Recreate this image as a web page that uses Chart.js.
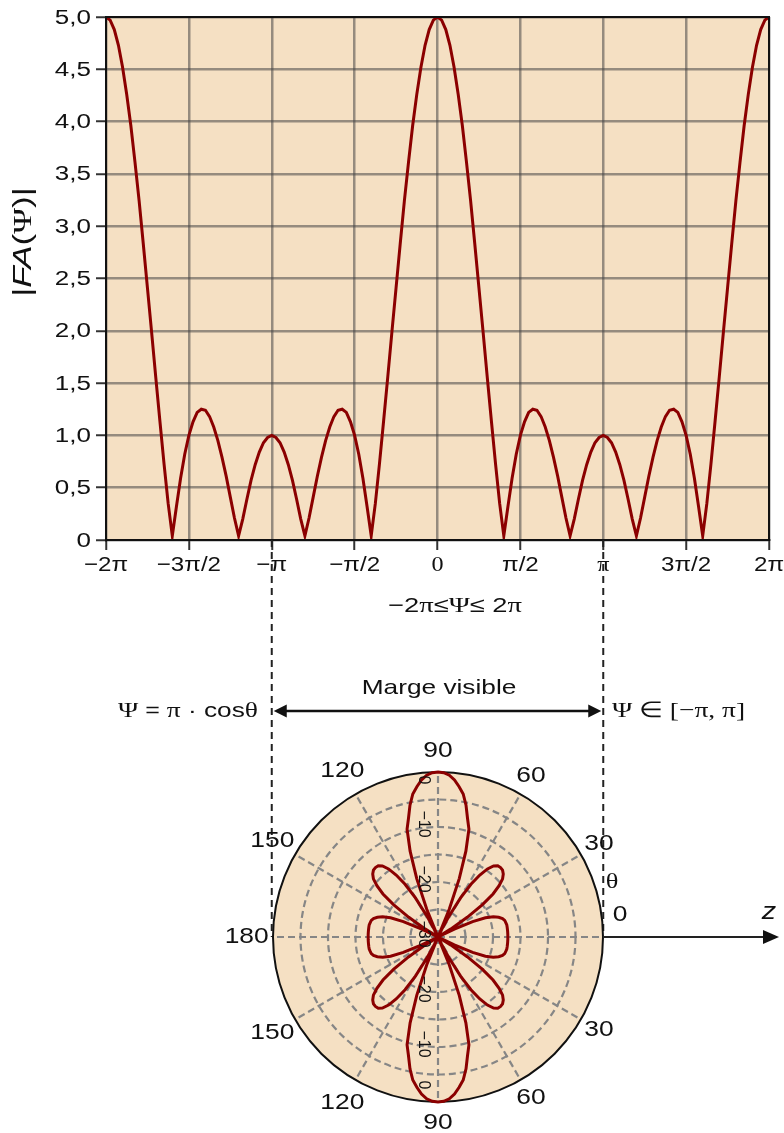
<!DOCTYPE html>
<html>
<head>
<meta charset="utf-8">
<script src="https://cdn.jsdelivr.net/npm/chart.js@4.4.1/dist/chart.umd.min.js"></script>
<style>
  html, body { margin: 0; padding: 0; background: #fff; }
  #page { position: relative; width: 784px; height: 1133px; overflow: hidden; }
  canvas { position: absolute; left: 0; }
  #fa-chart { top: 0; }
  #polar-chart { top: 717px; }
</style>
</head>
<body>
<div id="page">
  <canvas id="fa-chart" width="784" height="1133"></canvas>
  <canvas id="polar-chart" width="784" height="416"></canvas>
</div>
<script>
// |FA(Psi)| of the 5-element array, sampled every pi/40 from -2pi to 2pi
const psiStep = 0.025;   // in units of pi
const faValues = [
  5.00, 4.97, 4.88, 4.73, 4.52, 4.26, 3.96, 3.61, 3.24, 2.83,
  2.41, 1.99, 1.56, 1.14, 0.73, 0.35, 0.04, 0.32, 0.59, 0.82,
  1.00, 1.13, 1.22, 1.25, 1.24, 1.18, 1.08, 0.95, 0.79, 0.61,
  0.41, 0.21, 0.04, 0.20, 0.39, 0.57, 0.72, 0.84, 0.93, 0.98,
  1.00,
  0.98, 0.93, 0.84, 0.72, 0.57, 0.39, 0.20, 0.04, 0.21, 0.41,
  0.61, 0.79, 0.95, 1.08, 1.18, 1.24, 1.25, 1.22, 1.13, 1.00,
  0.82, 0.59, 0.32, 0.04, 0.35, 0.73, 1.14, 1.56, 1.99, 2.41,
  2.83, 3.24, 3.61, 3.96, 4.26, 4.52, 4.73, 4.88, 4.97, 5.00,
  4.97, 4.88, 4.73, 4.52, 4.26, 3.96, 3.61, 3.24, 2.83,
  2.41, 1.99, 1.56, 1.14, 0.73, 0.35, 0.04, 0.32, 0.59, 0.82,
  1.00, 1.13, 1.22, 1.25, 1.24, 1.18, 1.08, 0.95, 0.79, 0.61,
  0.41, 0.21, 0.04, 0.20, 0.39, 0.57, 0.72, 0.84, 0.93, 0.98,
  1.00,
  0.98, 0.93, 0.84, 0.72, 0.57, 0.39, 0.20, 0.04, 0.21, 0.41,
  0.61, 0.79, 0.95, 1.08, 1.18, 1.24, 1.25, 1.22, 1.13, 1.00,
  0.82, 0.59, 0.32, 0.04, 0.35, 0.73, 1.14, 1.56, 1.99, 2.41,
  2.83, 3.24, 3.61, 3.96, 4.26, 4.52, 4.73, 4.88, 4.97, 5.00
];
const psiValues = faValues.map((_, i) => -2 + i * psiStep);

const xTickValues = [-2, -1.5, -1, -0.5, 0, 0.5, 1, 1.5, 2];
const xTickLabels = ['\u22122\u03c0', '\u22123\u03c0/2', '\u2212\u03c0', '\u2212\u03c0/2', '0', '\u03c0/2', '\u03c0', '3\u03c0/2', '2\u03c0'];

// polar pattern in dB, one point every 2 degrees, clockwise from theta = 90 (top)
const thetaStep = 2;
const patternDb = [
  0, -0.1, -0.5, -1.3, -2.4, -3.6, -5.5, -7.8, -9.6, -13.6, -18.7, -24.5, -30, -28.5, -25.5, -21.8,
  -18.7, -16.4, -14.7, -13.6, -13.1, -13.0, -13.1, -13.5, -14.2, -15.5, -17.3, -20.0, -23.6, -27.3, -30, -30,
  -26.7, -23.1, -20.7, -19.3, -18.4, -17.8, -17.5, -17.4, -17.3, -17.3, -17.3, -17.3, -17.3, -17.3,
  -17.3, -17.3, -17.3, -17.3, -17.3, -17.4, -17.5, -17.8, -18.4, -19.3, -20.7, -23.1, -26.7, -30, -30,
  -27.3, -23.6, -20.0, -17.3, -15.5, -14.2, -13.5, -13.1, -13.0, -13.1, -13.6, -14.7, -16.4, -18.7, -21.8,
  -25.5, -28.5, -30, -24.5, -18.7, -13.6, -9.6, -7.8, -5.5, -3.6, -2.4, -1.3, -0.5, -0.1, 0,
  -0.1, -0.5, -1.3, -2.4, -3.6, -5.5, -7.8, -9.6, -13.6, -18.7, -24.5, -30, -28.5, -25.5, -21.8,
  -18.7, -16.4, -14.7, -13.6, -13.1, -13.0, -13.1, -13.5, -14.2, -15.5, -17.3, -20.0, -23.6, -27.3, -30, -30,
  -26.7, -23.1, -20.7, -19.3, -18.4, -17.8, -17.5, -17.4, -17.3, -17.3, -17.3, -17.3, -17.3, -17.3,
  -17.3, -17.3, -17.3, -17.3, -17.3, -17.4, -17.5, -17.8, -18.4, -19.3, -20.7, -23.1, -26.7, -30, -30,
  -27.3, -23.6, -20.0, -17.3, -15.5, -14.2, -13.5, -13.1, -13.0, -13.1, -13.6, -14.7, -16.4, -18.7, -21.8,
  -25.5, -28.5, -30, -24.5, -18.7, -13.6, -9.6, -7.8, -5.5, -3.6, -2.4, -1.3, -0.5, -0.1
];
const thetaLabels = patternDb.map((_, i) => 90 - i * thetaStep);

const angleLabelIndex = [0, 15, 30, 60, 75, 90, 105, 120, 135, 150, 165];
const angleLabelText = ['90', '60', '30', '30', '60', '90', '120', '150', '180', '150', '120'];
const dbLabelsTop = [0, -10, -20, -30];
const dbLabelsBottom = [-20, -10, 0];

const SANS = '"Liberation Sans", Arial, sans-serif';
const SERIF = '"Liberation Serif", "Times New Roman", serif';
const BEIGE = '#f5e0c3';
const CURVE = '#8b0000';
const INK = '#111';
const GRID = 'rgba(70,70,70,0.55)';
const WIDE = 1.25;   // the lettering is set a bit wide

const yLabel = v => v === 0 ? '0' : v.toFixed(1).replace('.', ',');

// text pieces with their own fonts, stretched horizontally by sx
function richText(ctx, parts, x, y, align, sx) {
  sx = sx || 1;
  let total = 0;
  parts.forEach(p => { ctx.font = p.f; p.w = ctx.measureText(p.t).width * sx; total += p.w; });
  let cx = align === 'right' ? x - total : align === 'center' ? x - total / 2 : x;
  parts.forEach(p => {
    ctx.save();
    ctx.font = p.f;
    ctx.textAlign = 'left';
    ctx.translate(cx, y);
    ctx.scale(sx, 1);
    ctx.fillText(p.t, 0, 0);
    ctx.restore();
    cx += p.w;
  });
  return total;
}

function arrowHead(ctx, x, y, dir, len, half) {
  ctx.beginPath();
  ctx.moveTo(x, y);
  ctx.lineTo(x - dir * len, y - half);
  ctx.lineTo(x - dir * len, y + half);
  ctx.closePath();
  ctx.fill();
}

// plot background, frame, tick labels, titles and the construction lines down to the polar plot
const faFrame = {
  id: 'faFrame',
  beforeDraw(chart) {
    const { ctx, chartArea: a } = chart;
    ctx.save();
    ctx.fillStyle = BEIGE;
    ctx.fillRect(a.left, a.top, a.right - a.left, a.bottom - a.top);
    ctx.restore();
  },
  afterDraw(chart) {
    const { ctx, chartArea: a, scales } = chart;
    ctx.save();
    ctx.strokeStyle = INK;
    ctx.lineWidth = 2;
    ctx.strokeRect(a.left, a.top, a.right - a.left, a.bottom - a.top);

    ctx.fillStyle = INK;
    ctx.textBaseline = 'middle';

    // tick labels
    scales.y.ticks.forEach(t => {
      richText(ctx, [{ t: yLabel(t.value), f: `20px ${SANS}` }], a.left - 15, scales.y.getPixelForValue(t.value) + 1, 'right', 1.3);
    });
    scales.x.ticks.forEach((t, i) => {
      const serif = t.value === 0 || t.value === 1;
      richText(ctx, [{ t: xTickLabels[i], f: `21px ${serif ? SERIF : SANS}` }], scales.x.getPixelForValue(t.value), a.bottom + 25, 'center', 1.15);
    });

    // y title |FA(Psi)|
    ctx.save();
    ctx.translate(24, 242);
    ctx.rotate(-Math.PI / 2);
    richText(ctx, [
      { t: '|', f: `25px ${SANS}` },
      { t: 'FA', f: `italic 25px ${SANS}` },
      { t: '(', f: `25px ${SANS}` },
      { t: '\u03a8', f: `25px ${SERIF}` },
      { t: ')|', f: `25px ${SANS}` }
    ], 0, 0, 'center', 1.4);
    ctx.restore();

    // x title
    richText(ctx, [
      { t: '\u22122', f: `21px ${SANS}` },
      { t: '\u03c0', f: `22px ${SERIF}` },
      { t: '\u2264', f: `21px ${SANS}` },
      { t: '\u03a8', f: `22px ${SERIF}` },
      { t: '\u2264 2', f: `21px ${SANS}` },
      { t: '\u03c0', f: `22px ${SERIF}` }
    ], 455, 606, 'center', 1.3);

    // visible range: dashed lines from -pi and pi down to the circle
    const xl = scales.x.getPixelForValue(-1);
    const xr = scales.x.getPixelForValue(1);
    ctx.strokeStyle = '#222';
    ctx.lineWidth = 2;
    ctx.setLineDash([7, 5]);
    ctx.beginPath();
    ctx.moveTo(xl, a.bottom); ctx.lineTo(xl, 937);
    ctx.moveTo(xr, a.bottom); ctx.lineTo(xr, 937);
    ctx.stroke();
    ctx.setLineDash([]);

    // double arrow
    const ay = 711;
    ctx.strokeStyle = INK;
    ctx.lineWidth = 2.5;
    ctx.beginPath();
    ctx.moveTo(xl + 10, ay); ctx.lineTo(xr - 10, ay);
    ctx.stroke();
    arrowHead(ctx, xl + 2, ay, -1, 13, 6.5);
    arrowHead(ctx, xr - 2, ay, 1, 13, 6.5);

    richText(ctx, [{ t: 'Marge visible', f: `21px ${SANS}` }], 439, 688, 'center', WIDE);

    richText(ctx, [
      { t: '\u03a8', f: `22px ${SERIF}` },
      { t: ' = ', f: `20px ${SANS}` },
      { t: '\u03c0', f: `22px ${SERIF}` },
      { t: ' \u00b7 cos', f: `21px ${SANS}` },
      { t: '\u03b8', f: `22px ${SERIF}` }
    ], 258, 711, 'right', WIDE);

    richText(ctx, [
      { t: '\u03a8 \u2208 [\u2212\u03c0, \u03c0]', f: `22px ${SERIF}` }
    ], 612, 711, 'left', WIDE);

    ctx.restore();
  }
};

new Chart(document.getElementById('fa-chart'), {
  type: 'line',
  data: {
    datasets: [{
      data: psiValues.map((x, i) => ({ x: x, y: faValues[i] })),
      borderColor: CURVE,
      borderWidth: 3,
      pointRadius: 0,
      tension: 0,
      fill: false
    }]
  },
  options: {
    responsive: false,
    animation: false,
    layout: { padding: { top: 17, right: 15, left: 0, bottom: 0 } },
    plugins: { legend: { display: false }, tooltip: { enabled: false } },
    scales: {
      x: {
        type: 'linear',
        min: -2,
        max: 2,
        afterBuildTicks: s => { s.ticks = xTickValues.map(v => ({ value: v })); },
        afterFit: s => { s.height = 593; },
        ticks: { display: false },
        grid: { color: GRID, lineWidth: 2.5, tickLength: 10, tickColor: '#333', tickWidth: 2 },
        border: { color: INK, width: 2 }
      },
      y: {
        min: 0,
        max: 5,
        afterFit: s => { s.width = 106; },
        ticks: { display: false, stepSize: 0.5 },
        grid: { color: GRID, lineWidth: 2.5, tickLength: 10, tickColor: '#333', tickWidth: 2 },
        border: { color: INK, width: 2 }
      }
    }
  },
  plugins: [faFrame]
});

// angle labels, dB labels along the vertical axis and the z axis arrow
const polarDecor = {
  id: 'polarDecor',
  afterDraw(chart) {
    const r = chart.scales.r;
    const ctx = chart.ctx;
    const cx = r.xCenter, cy = r.yCenter, R = r.drawingArea;
    ctx.save();
    ctx.fillStyle = INK;
    ctx.textBaseline = 'middle';
    const sx = 1.2;
    angleLabelIndex.forEach((idx, k) => {
      const txt = angleLabelText[k];
      ctx.font = `22px ${SANS}`;
      const w = ctx.measureText(txt).width * sx;
      const d = R + 10 + 0.37 * w;
      const p = r.getPointPosition(idx, d);
      richText(ctx, [{ t: txt, f: `22px ${SANS}` }], p.x, p.y, 'center', sx);
    });

    // dB labels, written downwards
    ctx.font = `16px ${SANS}`;
    ctx.textAlign = 'center';
    const put = (v, y) => {
      ctx.save();
      ctx.translate(cx - 15, y);
      ctx.rotate(Math.PI / 2);
      ctx.fillText(v === 0 ? '0' : '\u2212' + Math.abs(v), 0, 0);
      ctx.restore();
    };
    dbLabelsTop.forEach(v => {
      const d = Math.min(r.getDistanceFromCenterForValue(v), R - 11);
      put(v, cy - d - 3);
    });
    dbLabelsBottom.forEach(v => {
      const d = Math.min(r.getDistanceFromCenterForValue(v), R - 14);
      put(v, cy + d - 3);
    });

    // z axis
    ctx.strokeStyle = '#222';
    ctx.lineWidth = 2.2;
    ctx.beginPath();
    ctx.moveTo(cx + R, cy);
    ctx.lineTo(764, cy);
    ctx.stroke();
    ctx.fillStyle = INK;
    arrowHead(ctx, 779, cy, 1, 16, 7);
    richText(ctx, [{ t: 'z', f: `italic 24px ${SANS}` }], 769, cy - 25, 'center', sx);
    richText(ctx, [{ t: '0', f: `22px ${SANS}` }], 620, cy - 22, 'center', sx);
    richText(ctx, [{ t: '\u03b8', f: `22px ${SERIF}` }], 612, cy - 55, 'center', sx);
    ctx.restore();
  }
};

new Chart(document.getElementById('polar-chart'), {
  type: 'radar',
  data: {
    labels: thetaLabels,
    datasets: [{
      data: patternDb,
      borderColor: CURVE,
      borderWidth: 3,
      pointRadius: 0,
      tension: 0,
      fill: false,
      clip: false
    }]
  },
  options: {
    responsive: false,
    animation: false,
    layout: { padding: { left: 273, right: 181, top: 55, bottom: 31 } },
    plugins: { legend: { display: false }, tooltip: { enabled: false } },
    scales: {
      r: {
        min: -30,
        max: 0,
        backgroundColor: BEIGE,
        ticks: { display: false, stepSize: 5 },
        pointLabels: { display: false },
        grid: {
          circular: true,
          color: c => (c.tick && c.tick.value === 0) ? INK : '#868686',
          lineWidth: c => (c.tick && c.tick.value === 0) ? 2 : 2.2
        },
        border: {
          dash: c => (c.tick && c.tick.value === 0) ? [] : [7, 4]
        },
        angleLines: {
          color: '#868686',
          lineWidth: c => c.index % 15 === 0 ? 2.2 : 0,
          borderDash: [7, 4]
        }
      }
    }
  },
  plugins: [polarDecor]
});
</script>
</body>
</html>
